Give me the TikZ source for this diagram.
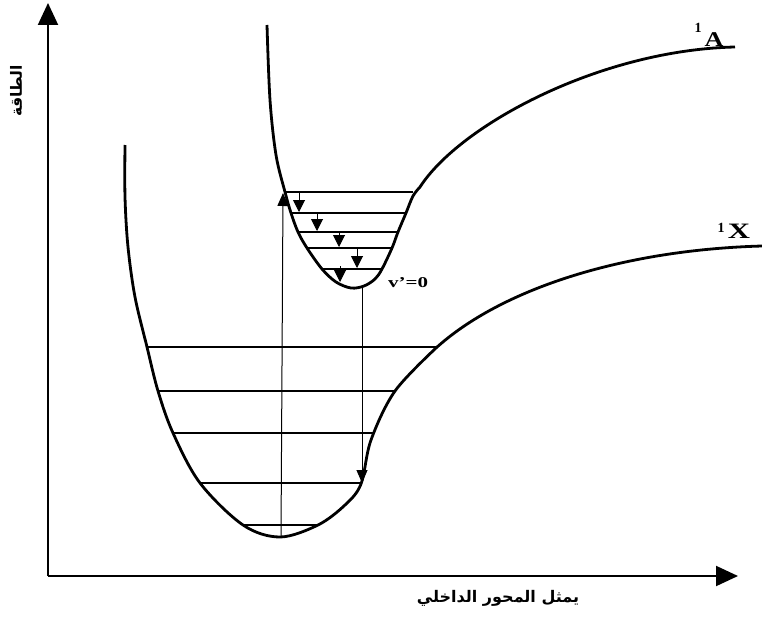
\documentclass[tikz,border=0pt]{standalone}
\usepackage{fontspec}
\setmainfont{Liberation Serif}
\newfontfamily\arabicfont[Script=Arabic]{DejaVu Sans}
\TeXXeTstate=1
\usetikzlibrary{arrows.meta}
\begin{document}
\begin{tikzpicture}[x=1pt,y=-1pt,
  curve/.style={line width=2.8pt, line join=round},
  level/.style={line width=2.2pt},
  axis/.style={line width=2pt, -{Triangle[width=20pt,length=22pt]}},
  trans/.style={line width=1pt, -{Triangle[width=11pt,length=13pt]}},
  relax/.style={line width=1pt, -{Triangle[width=12pt,length=12pt]}},
  sup/.style={font=\bfseries\fontsize{14}{14}\selectfont, inner sep=0pt}]
\useasboundingbox (0,0) rectangle (762,618);
% axes
\coordinate (O) at (48,576);
\coordinate (ytip) at (48,3);
\coordinate (xtip) at (738,576);
\draw[axis] (O) -- (ytip);
\draw[axis] (O) -- (xtip);
\node[rotate=90, inner sep=0pt, font=\arabicfont\bfseries\fontsize{15.5}{15.5}\selectfont] (ylab) at (16,91) {\beginR الطاقة\endR};
\node[inner sep=0pt, font=\arabicfont\bfseries\fontsize{16}{16}\selectfont] (xlab) at (498,598) {\beginR يمثل المحور الداخلي\endR};
% ground state X
\draw[curve] plot[smooth, tension=0.55] coordinates {(125,145) (125,197) (128,247) (135,297) (147,347) (158,391) (173,433) (200,483) (243,525) (280,537) (318,525) (345,505) (361,484) (371,440) (395,391) (436,348)}
  .. controls (500,290) and (620,250) .. (762,246);
% excited state A
\draw[curve] plot[smooth, tension=0.55] coordinates {(267,25) (270,100) (276,155) (285,192) (291,213) (298,232) (307,248) (322,269) (336,282) (351,288) (364,286) (375,279) (382,269) (392,248) (398,232) (406,213) (413,196) (420,187)}
  .. controls (460,125) and (600,50) .. (735,47);
% vibrational levels of X
\draw[level] (147,347) -- (436,347);
\draw[level] (158,391) -- (395,391);
\draw[level] (173,433) -- (373,433);
\draw[level] (200,483) -- (362,483);
\draw[level] (243,525) -- (318,525);
% vibrational levels of A
\coordinate (u1l) at (285,192); \coordinate (u1r) at (413,192);
\coordinate (u2l) at (291,213); \coordinate (u2r) at (406,213);
\coordinate (u3l) at (298,232); \coordinate (u3r) at (398,232);
\coordinate (u4l) at (307,248); \coordinate (u4r) at (392,248);
\coordinate (u5l) at (322,269); \coordinate (u5r) at (382,269);
\draw[level] (u1l) -- (u1r);
\draw[level] (u2l) -- (u2r);
\draw[level] (u3l) -- (u3r);
\draw[level] (u4l) -- (u4r);
\draw[level] (u5l) -- (u5r);
% relaxation arrows
\coordinate (r1a) at (299,192); \coordinate (r1b) at (299,212);
\coordinate (r2a) at (317,213); \coordinate (r2b) at (317,231);
\coordinate (r3a) at (339,232); \coordinate (r3b) at (339,247);
\coordinate (r4a) at (357,248); \coordinate (r4b) at (357,268);
\coordinate (r5a) at (340,266); \coordinate (r5b) at (340,282);
\draw[relax] (r1a) -- (r1b);
\draw[relax] (r2a) -- (r2b);
\draw[relax] (r3a) -- (r3b);
\draw[relax] (r4a) -- (r4b);
\draw[relax] (r5a) -- (r5b);
% absorption and emission
\coordinate (absA) at (281,537); \coordinate (absB) at (283,193);
\coordinate (emA) at (362,288); \coordinate (emB) at (362,483);
\draw[trans] (absA) -- (absB);
\draw[trans] (emA) -- (emB);
% labels
\node[font=\bfseries\fontsize{15}{15}\selectfont, inner sep=0pt, anchor=base west] (v0) at (388,287) {\scalebox{1.4}[1]{v\symbol{"27}=0}};
\node[font=\bfseries\fontsize{21}{21}\selectfont, inner sep=0pt, anchor=base] (Alab) at (714,47) {\scalebox{1.25}[1]{A}};
\node[sup, anchor=base] (A1) at (698,33) {1};
\node[font=\bfseries\fontsize{22}{22}\selectfont, inner sep=0pt, anchor=base] (Xlab) at (739,238) {\scalebox{1.4}[1]{X}};
\node[sup, anchor=base] (X1) at (721,232) {1};
\end{tikzpicture}
\end{document}
